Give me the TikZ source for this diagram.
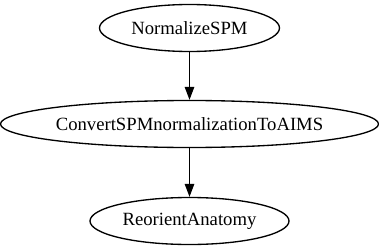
\documentclass[tikz,border=0pt]{standalone}
\usepackage{fontspec}
\setmainfont{Liberation Serif}
\usetikzlibrary{shapes.geometric,arrows.meta}
\begin{document}
\begin{tikzpicture}[x=1pt,y=1pt,
  proc/.style={ellipse,draw,line width=1.33pt,inner sep=0pt,minimum height=47pt,
    font=\fontsize{18.67}{22}\selectfont},
  flow/.style={line width=1.33pt,-{Triangle[length=13pt,width=9.5pt]}}]
  \useasboundingbox (0,0) rectangle (379,-251);
  \node[proc,minimum width=180pt] (norm) at (189.5,-28) {NormalizeSPM};
  \node[proc,minimum width=373pt] (conv) at (189.5,-124) {ConvertSPMnormalizationToAIMS};
  \node[proc,minimum width=199pt] (reor) at (189.5,-221) {ReorientAnatomy};
  \draw[flow] (norm) -- (conv);
  \draw[flow] (conv) -- (reor);
\end{tikzpicture}
\end{document}
